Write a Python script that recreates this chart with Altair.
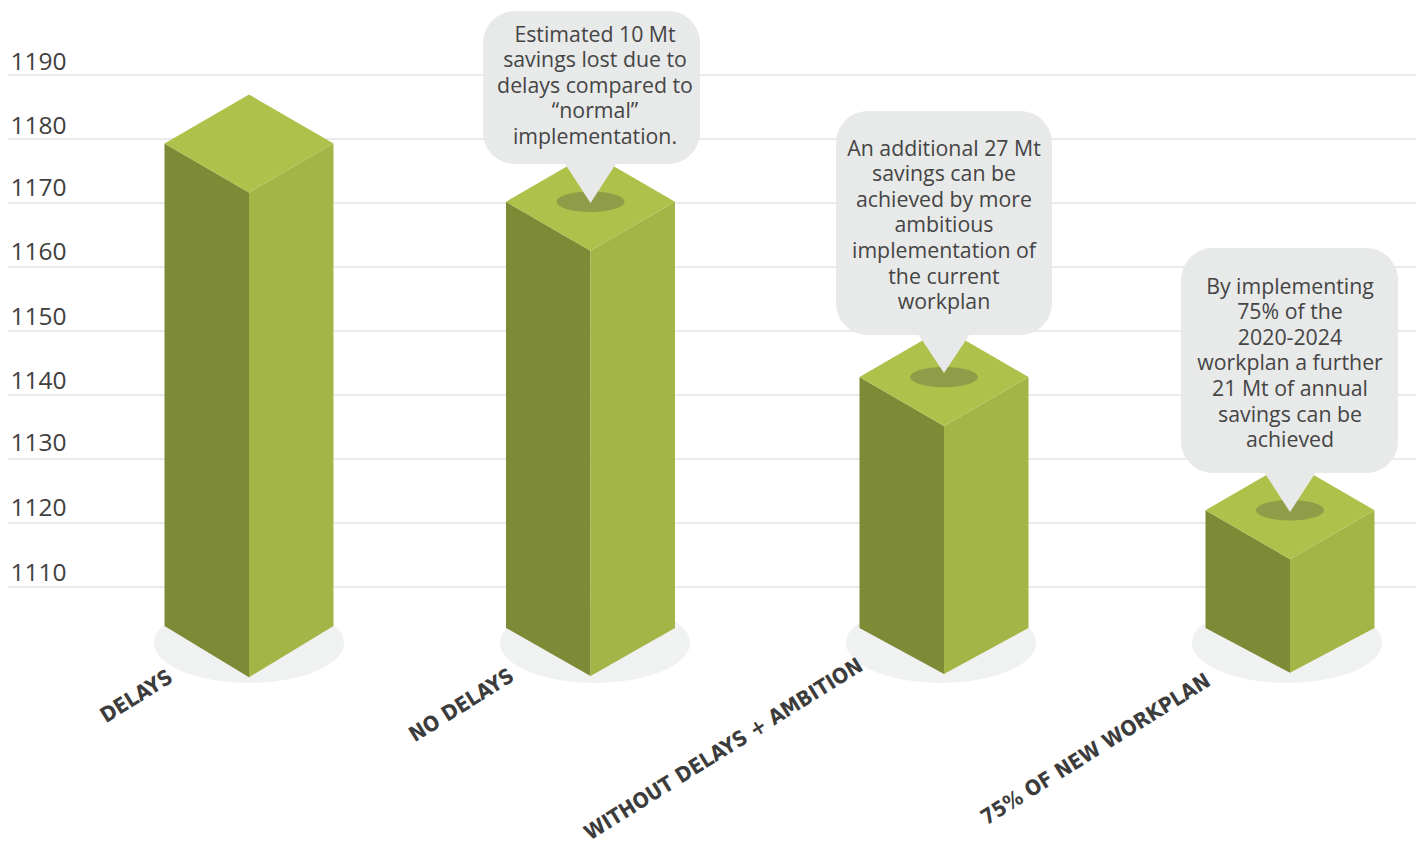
import altair as alt
import pandas as pd

# ---------- data ----------
categories = ["DELAYS", "NO DELAYS", "WITHOUT DELAYS + AMBITION", "75% OF NEW WORKPLAN"]
values = [1179.3, 1170.2, 1142.8, 1122.0]
base_side = [1103.9, 1103.6, 1103.6, 1103.6]
base_front = [1095.9, 1096.1, 1096.4, 1096.6]
ticks = [1190, 1180, 1170, 1160, 1150, 1140, 1130, 1120, 1110]
tick_label_gap = [5, 5, 7, 7, 6, 6, 8, 7, 6]
notes = [
    "Estimated 10 Mt\nsavings lost due to\ndelays compared to\n\u201cnormal\u201d\nimplementation.",
    "An additional 27 Mt\nsavings can be\nachieved by more\nambitious\nimplementation of\nthe current\nworkplan",
    "By implementing\n75% of the\n2020-2024\nworkplan a further\n21 Mt of annual\nsavings can be\nachieved",
]

# ---------- layout of the drawing, in page pixels ----------
W, H = 1408, 836
UNIT = 6.4


def X(p):
    return p - 8


def Y(p):
    return 1190 - (p - 75) / UNIT


DEPTH = 49 / UNIT
centers = [249, 590.5, 944, 1290]
halfw = [84.5, 84.5, 84.5, 84.5]
shadow_x = [249, 595, 941, 1287]
label_pos = [(137, 697), (462, 706), (724, 750), (1096, 750)]
# note boxes: left, right, top, bottom, text centre x, first line centre y, pointer half width, tip y
boxes = [
    (483, 700, 11, 164, 595, 35.5, 26, 203),
    (836, 1052, 111, 335, 944, 149.5, 26, 373),
    (1181, 1398, 248, 473, 1290, 287.5, 26, 512),
]
note_owner = [1, 2, 3]

x_s = alt.Scale(domain=[0, W], range=[0, W], nice=False, zero=False)
y_s = alt.Scale(domain=[Y(8 + H), Y(8)], range=[H, 0], nice=False, zero=False)
xe = alt.X("x:Q", scale=x_s, axis=None)
ye = alt.Y("y:Q", scale=y_s, axis=None)

# ---------- tables ----------
left, right, top = [], [], []
for i, (c, hw, v, bs, bf) in enumerate(zip(centers, halfw, values, base_side, base_front)):
    left += [dict(g=i, x=X(c - hw), y=v, y2=bs), dict(g=i, x=X(c), y=v - DEPTH, y2=bf)]
    right += [dict(g=i, x=X(c), y=v - DEPTH, y2=bf), dict(g=i, x=X(c + hw), y=v, y2=bs)]
    top += [
        dict(g=i, x=X(c - hw), y=v, y2=v),
        dict(g=i, x=X(c), y=v + DEPTH, y2=v - DEPTH),
        dict(g=i, x=X(c + hw), y=v, y2=v),
    ]

pointer, box_rows, note_rows, dimples = [], [], [], []
for i, (b, t, o) in enumerate(zip(boxes, notes, note_owner)):
    l, r, tp, bt, tx, ty, pw, tip = b
    cx = centers[o]
    box_rows.append(dict(x=X(l), x2=X(r), y=Y(tp), y2=Y(bt)))
    pointer += [
        dict(g=i, x=X(cx - pw), y=Y(bt - 1), y2=Y(bt - 1)),
        dict(g=i, x=X(cx), y=Y(bt - 1), y2=Y(tip)),
        dict(g=i, x=X(cx + pw), y=Y(bt - 1), y2=Y(bt - 1)),
    ]
    note_rows.append(dict(x=X(tx), y=Y(ty), t=t))
    dimples.append(dict(x=X(cx), y=values[o]))

grid_df = pd.DataFrame({"y": ticks, "x": [0] * len(ticks), "x2": [W] * len(ticks)})
tick_df = pd.DataFrame(
    {"y": [t + g / UNIT for t, g in zip(ticks, tick_label_gap)], "x": [X(10.5)] * len(ticks), "t": [str(t) for t in ticks]}
)
shadow_df = pd.DataFrame({"x": [X(s) for s in shadow_x], "y": [Y(643)] * 4})
cat_df = pd.DataFrame({"x": [X(p[0]) for p in label_pos], "y": [Y(p[1]) for p in label_pos], "t": categories})

ELLIPSE = "M-1,0 A1,{r} 0 1,1 1,0 A1,{r} 0 1,1 -1,0 Z"

grid = alt.Chart(grid_df).mark_rule(color="#e9eaea", strokeWidth=2).encode(
    x=xe, x2="x2:Q", y=ye
)
tick_text = alt.Chart(tick_df).mark_text(
    font="Open Sans", fontSize=24.5, color="#404040", align="left", baseline="alphabetic"
).encode(x=xe, y=ye, text="t:N")
shadow = alt.Chart(shadow_df).mark_point(
    shape=ELLIPSE.format(r=0.42), size=190 ** 2, filled=True, color="#f0f2f2", opacity=1, strokeWidth=0
).encode(x=xe, y=ye)


def face(rows, color):
    return alt.Chart(pd.DataFrame(rows)).mark_area(color=color, opacity=1, line=False).encode(
        x=xe, y=ye, y2="y2:Q", detail="g:N"
    )


left_face = face(left, "#7d8a36")
right_face = face(right, "#a3b546")
top_face = face(top, "#aec14b")
dimple = alt.Chart(pd.DataFrame(dimples)).mark_point(
    shape=ELLIPSE.format(r=0.3), size=68 ** 2, filled=True, color="#8f9c48", opacity=1, strokeWidth=0
).encode(x=xe, y=ye)
box = alt.Chart(pd.DataFrame(box_rows)).mark_rect(color="#e8e9e9", cornerRadius=32).encode(
    x=xe, x2="x2:Q", y=ye, y2="y2:Q"
)
point = face(pointer, "#e8e9e9")
note_text = alt.Chart(pd.DataFrame(note_rows)).mark_text(
    font="Open Sans", fontSize=21.3, color="#454545", align="center", baseline="middle",
    lineBreak="\n", lineHeight=25.6,
).encode(x=xe, y=ye, text="t:N")
cat_text = alt.Chart(cat_df).mark_text(
    font="DejaVu Sans Condensed", fontWeight="bold", fontSize=21, color="#3c3c3c",
    align="center", baseline="middle", angle=328,
).encode(x=xe, y=ye, text="t:N")

chart = alt.layer(
    grid, tick_text, shadow, left_face, right_face, top_face, dimple, box, point, note_text, cat_text
).properties(
    width=W, height=H, padding=0, autosize=alt.AutoSizeParams(type="none"), background="white"
).configure_view(stroke=None)

chart.save("out.html", embed_options={"renderer": "svg", "actions": False})
